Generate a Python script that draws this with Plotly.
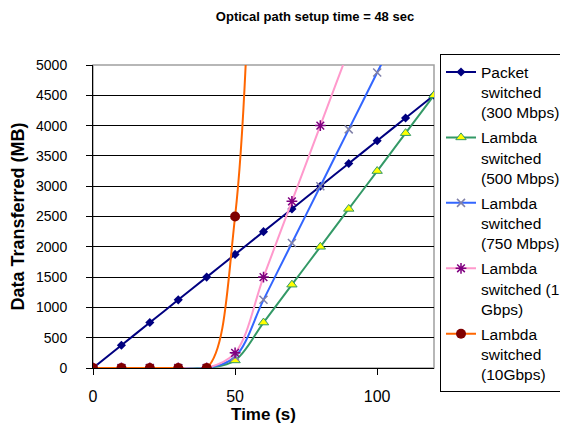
import plotly.graph_objects as go

time_s = [0, 10, 20, 30, 40, 50, 60, 70, 80, 90, 100, 110, 120]
packet_300 = [0, 375, 750, 1125, 1500, 1875, 2250, 2625, 3000, 3375, 3750, 4125, 4500]
lambda_500 = [0, 0, 0, 0, 0, 125, 750, 1375, 2000, 2625, 3250, 3875, 4500]
lambda_750 = [0, 0, 0, 0, 0, 187.5, 1125, 2062.5, 3000, 3937.5, 4875, 5812.5, 6750]
lambda_1g = [0, 0, 0, 0, 0, 250, 1500, 2750, 4000, 5250, 6500, 7750, 9000]
lambda_10g = [0, 0, 0, 0, 0, 2500, 15000, 27500, 40000, 52500, 65000, 77500, 90000]

names = ["Packet<br>switched<br>(300 Mbps)",
         "Lambda<br>switched<br>(500 Mbps)",
         "Lambda<br>switched<br>(750 Mbps)",
         "Lambda<br>switched (1<br>Gbps)",
         "Lambda<br>switched<br>(10Gbps)"]

FONT = "Arial, Liberation Sans, sans-serif"

fig = go.Figure()
series = [
    (packet_300, "#000080", dict(symbol="diamond", size=7, color="#000080")),
    (lambda_500, "#339966", dict(symbol="triangle-up", size=9, color="#FFFF00",
                                 line=dict(color="#339966", width=1))),
    (lambda_750, "#3366FF", dict(symbol="x-thin-open", size=8, color="#8080A8",
                                 line=dict(color="#8080A8", width=1.5))),
    (lambda_1g, "#FF99CC", dict(symbol="asterisk-open", size=9, color="#800080",
                                line=dict(color="#800080", width=1.5))),
    (lambda_10g, "#FF6600", dict(symbol="circle", size=10, color="#800000")),
]
for i, (vals, lc, mk) in enumerate(series):
    fig.add_trace(go.Scatter(
        x=time_s, y=vals, name=names[i], mode="lines+markers",
        line=dict(color=lc, width=2, shape="spline", smoothing=1),
        marker=mk, legendgroup=str(i)))

fig.update_layout(
    width=560, height=430,
    margin=dict(l=85, r=134, t=57, b=70, autoexpand=False),
    paper_bgcolor="white", plot_bgcolor="white",
    font=dict(family=FONT, color="black"),
    title=dict(text="<b>Optical path setup time = 48 sec</b>",
               font=dict(size=13, family=FONT, color="black"),
               x=307/560, xanchor="center", xref="container",
               y=1 - 8/430, yanchor="middle", yref="container"),
    showlegend=True,
    legend=dict(x=1.0176, y=1.035, xanchor="left", yanchor="top",
                bordercolor="black", borderwidth=1, bgcolor="white",
                font=dict(size=15.5, family=FONT, color="black"),
                tracegroupgap=2, valign="top", itemwidth=30, maxheight=1000),
    xaxis=dict(range=[0, 120], tickvals=[0, 50, 100], ticks="outside",
               ticklen=6, tickcolor="black", showgrid=False, zeroline=False,
               showline=True, linecolor="black", linewidth=1, automargin=False,
               tickfont=dict(size=16, family=FONT), ticklabelstandoff=8,
               title=dict(text="<b>Time (s)</b>", font=dict(size=17, family=FONT),
                          standoff=2)),
    yaxis=dict(range=[0, 5000], dtick=500, ticks="outside", ticklen=6,
               tickcolor="black", showgrid=True, gridcolor="black", gridwidth=1,
               zeroline=False, showline=True, linecolor="black", linewidth=1,
               automargin=False,
               tickfont=dict(size=14, family=FONT), ticklabelstandoff=16,
               title=dict(text="<b>Data Transferred (MB)</b>",
                          font=dict(size=18, family=FONT), standoff=10)),
)
fig.add_shape(type="rect", xref="x domain", yref="y domain", x0=0, x1=1, y0=0, y1=1,
              line=dict(color="#A0A0A0", width=1.5), layer="below")

fig.write_html("out.html")
